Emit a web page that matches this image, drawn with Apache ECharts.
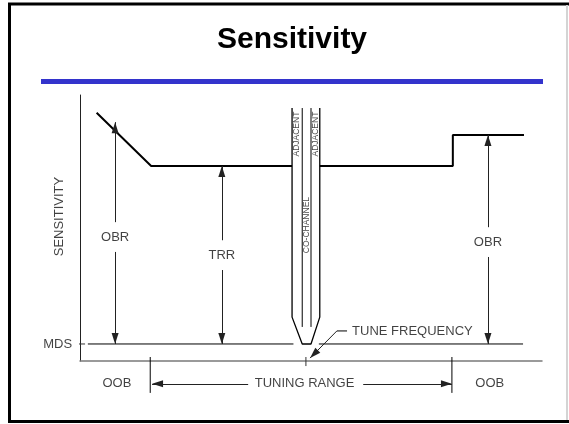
<!DOCTYPE html>
<html>
<head>
<meta charset="utf-8">
<script src="https://cdn.jsdelivr.net/npm/echarts@6/dist/echarts.min.js"></script>
<style>
html, body { margin: 0; padding: 0; background: #fff; }
#chart { width: 569px; height: 424px; }
</style>
</head>
<body>
<div id="chart"></div>
<script>
// schematic: x = frequency (0..100), y = sensitivity (0..100)
var slopeCurve = [[3.6, 93.3], [15.4, 73.3], [45.9, 73.3]];
var stepCurve = [[51.9, 73.3], [80.7, 73.3], [80.7, 85.0], [96.1, 85.0]];
var notchOuter = [[45.9, 95.1], [45.9, 16.5], [48.1, 6.4], [50.0, 6.4], [51.9, 16.5], [51.9, 95.1]];
var notchInnerX = [48.1, 50.0];
var notchInnerY = [95.1, 12.8];
var mdsLevel = 6.4;
var mdsSpans = [[1.7, 46.2], [51.7, 95.9]];
var tuneFreq = 48.9;
var bandEdges = [15.2, 80.5];

// vertical range arrows (label, x, top)
var rangeNames = ['OBR', 'TRR', 'OBR'];
var rangeX = [7.6, 30.7, 88.3];
var rangeTop = [89.8, 73.3, 85.0];
var rangeLabelY = [46.6, 39.8, 44.7];

// bottom band labels (below the frequency axis)
var bandNames = ['OOB', 'TUNING RANGE', 'OOB'];
var bandLabelX = [8.0, 48.6, 88.7];
var bandY = -8.6;
var tuningArrowFrom = [36.4, 61.3];

// tune frequency leader
var leaderStart = [57.8, 11.3];
var leaderBend = [55.6, 11.3];
var leaderTip = [49.8, 1.1];
var leaderText = [58.9, 11.3];

var FONT = 'Liberation Sans, Arial, sans-serif';
var GAP = 5.6;       // half gap round the range labels
var HEAD = [7, 11];  // arrow head size

var chart = echarts.init(document.getElementById('chart'));

function seg(data, width, color, grid) {
    return {
        type: 'line',
        data: data,
        xAxisIndex: grid || 0,
        yAxisIndex: grid || 0,
        symbol: 'none',
        clip: false,
        silent: true,
        lineStyle: { color: color || '#000', width: width },
        emphasis: { disabled: true }
    };
}

function arrowSeries(lines, grid) {
    return {
        type: 'line',
        data: [],
        xAxisIndex: grid,
        yAxisIndex: grid,
        clip: false,
        silent: true,
        markLine: {
            silent: true,
            animation: false,
            symbol: ['none', 'triangle'],
            symbolSize: HEAD,
            symbolOffset: [0, [0, HEAD[1] / 2]],
            label: { show: false },
            lineStyle: { color: '#222', width: 1, type: 'solid' },
            emphasis: { disabled: true },
            data: lines
        }
    };
}

var series = [];
series.push(seg(slopeCurve, 2));
series.push(seg(stepCurve, 2));
series.push(seg(notchOuter, 1.3));
notchInnerX.forEach(function(x) {
    series.push(seg([[x, notchInnerY[0]], [x, notchInnerY[1]]], 1));
});
mdsSpans.forEach(function(s) {
    series.push(seg([[s[0], mdsLevel], [s[1], mdsLevel]], 1));
});
// MDS tick across the axis
series.push(seg([[-1.1, mdsLevel], [1.1, mdsLevel]], 1, '#333'));
// tune frequency tick
series.push(seg([[tuneFreq, 1.5], [tuneFreq, -1.9]], 1, '#333'));
// band edges
bandEdges.forEach(function(x) {
    series.push(seg([[x, 1.5], [x, -12]], 1, '#000', 1));
});
series.push(seg([leaderStart, leaderBend], 1, '#000'));

// arrows (tail -> tip)
var arrows = [];
rangeX.forEach(function(x, i) {
    arrows.push([{ coord: [x, rangeLabelY[i] + GAP] }, { coord: [x, rangeTop[i]] }]);
    arrows.push([{ coord: [x, rangeLabelY[i] - GAP] }, { coord: [x, mdsLevel] }]);
});
arrows.push([{ coord: leaderBend }, { coord: leaderTip }]);
series.push(arrowSeries(arrows, 0));

var bandArrows = [
    [{ coord: [tuningArrowFrom[0], bandY] }, { coord: [bandEdges[0] + 0.4, bandY] }],
    [{ coord: [tuningArrowFrom[1], bandY] }, { coord: [bandEdges[1], bandY] }]
];
series.push(arrowSeries(bandArrows, 1));

// text
var texts = [];
function txt(name, pos, extra) {
    var label = Object.assign({
        show: true,
        position: 'inside',
        formatter: name,
        color: '#111',
        fontFamily: FONT,
        fontSize: 13
    }, extra || {});
    texts.push({ name: name, value: pos, label: label });
}
txt('SENSITIVITY', [-4.5, 54.3], { rotate: 90 });
txt('MDS', [-1.7, mdsLevel], { position: 'left', distance: 0 });
rangeNames.forEach(function(n, i) { txt(n, [rangeX[i], rangeLabelY[i]]); });
bandNames.forEach(function(n, i) { txt(n, [bandLabelX[i], bandY]); });
txt('TUNE FREQUENCY', leaderText, { position: 'right', distance: 0 });
txt('ADJACENT', [46.97, 85.3], { rotate: 90, fontSize: 8.5 });
txt('ADJACENT', [50.97, 85.3], { rotate: 90, fontSize: 8.5 });
txt('CO-CHANNEL', [49.0, 51.1], { rotate: 90, fontSize: 8.5 });

series.push({
    type: 'scatter',
    data: texts,
    symbolSize: 0,
    clip: false,
    silent: true,
    emphasis: { disabled: true }
});

var hidden = {
    axisLine: { show: false }, axisTick: { show: false },
    axisLabel: { show: false }, splitLine: { show: false }
};

chart.setOption({
    animation: false,
    backgroundColor: '#fff',
    title: {
        text: 'Sensitivity',
        left: 212,
        top: 20,
        textStyle: { fontFamily: FONT, fontSize: 30, fontWeight: 'bold', color: '#000' }
    },
    grid: [
        { left: 80, right: 27, top: 95, bottom: 63 },
        { left: 80, right: 27, top: 361, height: 63 }
    ],
    xAxis: [
        {
            type: 'value', min: 0, max: 100, gridIndex: 0,
            axisLine: { show: true, lineStyle: { color: '#7a7a7a', width: 1.5 } },
            axisTick: { show: false }, axisLabel: { show: false }, splitLine: { show: false }
        },
        Object.assign({ type: 'value', min: 0, max: 100, gridIndex: 1 }, hidden)
    ],
    yAxis: [
        {
            type: 'value', min: 0, max: 100, gridIndex: 0,
            axisLine: { show: true, lineStyle: { color: '#222', width: 1 } },
            axisTick: { show: false }, axisLabel: { show: false }, splitLine: { show: false }
        },
        Object.assign({ type: 'value', min: -23.7, max: 0, gridIndex: 1 }, hidden)
    ],
    graphic: [
        { type: 'rect', shape: { x: 41, y: 79, width: 502, height: 5 }, style: { fill: '#3333cc' } },
        { type: 'line', shape: { x1: 8, y1: 4, x2: 569, y2: 4 }, style: { stroke: '#000', lineWidth: 3 } },
        { type: 'line', shape: { x1: 9.5, y1: 3, x2: 9.5, y2: 423 }, style: { stroke: '#000', lineWidth: 3 } },
        { type: 'line', shape: { x1: 8, y1: 421.5, x2: 569, y2: 421.5 }, style: { stroke: '#000', lineWidth: 3 } },
        { type: 'line', shape: { x1: 567, y1: 5, x2: 567, y2: 420 }, style: { stroke: '#d4d4d4', lineWidth: 2 } }
    ],
    series: series
});
</script>
</body>
</html>
